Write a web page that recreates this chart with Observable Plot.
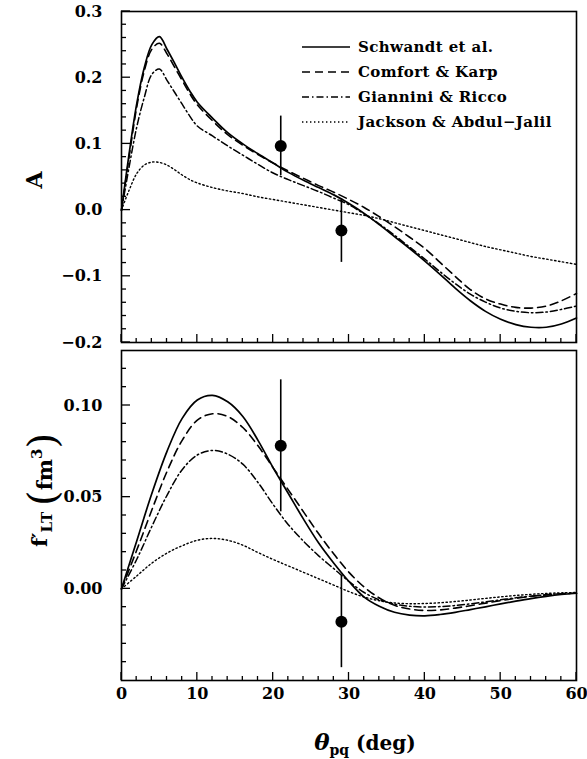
<!DOCTYPE html>
<html>
<head>
<meta charset="utf-8">
<script src="https://cdn.jsdelivr.net/npm/d3@7"></script>
<script src="https://cdn.jsdelivr.net/npm/@observablehq/plot@0.6"></script>
<style>
  body { margin: 0; background: #fff; }
  #chart svg { display: block; }
  #chart svg text { font-family: 'DejaVu Serif', serif; font-weight: bold; }
</style>
</head>
<body>
<div id="chart"></div>
<script>
// ---------- data ----------
const legendNames = ["Schwandt et al.", "Comfort & Karp", "Giannini & Ricco", "Jackson & Abdul\u2212Jalil"];

// Top panel: analyzing power A vs theta_pq
const xTop = [0,1,2,3,4,5,6,7,8,9,10,12,14,16,18,20,22,24,26,28,30,32,34,36,38,40,42,44,46,48,50,52,54,56,58,60];
const aSchwandt = [0,0.085,0.16,0.215,0.25,0.262,0.243,0.222,0.2,0.18,0.163,0.139,0.117,0.1,0.085,0.071,0.057,0.045,0.034,0.023,0.01,-0.005,-0.022,-0.04,-0.058,-0.077,-0.097,-0.118,-0.137,-0.153,-0.165,-0.173,-0.177,-0.177,-0.172,-0.163];
const aComfort  = [0,0.08,0.155,0.21,0.243,0.252,0.236,0.216,0.196,0.176,0.159,0.135,0.114,0.098,0.084,0.071,0.059,0.048,0.037,0.027,0.016,0.004,-0.01,-0.025,-0.041,-0.058,-0.079,-0.1,-0.12,-0.134,-0.142,-0.147,-0.148,-0.145,-0.137,-0.126];
const aGiannini = [0,0.065,0.125,0.17,0.205,0.213,0.196,0.178,0.16,0.142,0.127,0.112,0.097,0.083,0.069,0.056,0.046,0.037,0.028,0.018,0.008,-0.006,-0.021,-0.038,-0.056,-0.074,-0.093,-0.111,-0.127,-0.139,-0.148,-0.153,-0.155,-0.154,-0.15,-0.145];
const aJackson  = [0,0.03,0.055,0.068,0.0725,0.072,0.068,0.061,0.053,0.046,0.041,0.034,0.029,0.025,0.02,0.016,0.012,0.008,0.004,0,-0.004,-0.008,-0.013,-0.019,-0.025,-0.031,-0.037,-0.043,-0.049,-0.055,-0.06,-0.065,-0.07,-0.074,-0.078,-0.082];
const expTheta = [21, 29];
const expA     = [0.097, -0.031];
const expAerr  = [0.045, 0.048];

// Bottom panel: f'_LT (fm^3) vs theta_pq
const xBot = [0,2,4,6,8,10,12,14,16,18,20,22,24,26,28,30,32,34,36,38,40,42,44,46,48,50,52,54,56,58,60];
const fSchwandt = [0,0.026,0.052,0.075,0.093,0.103,0.1055,0.102,0.094,0.081,0.066,0.052,0.038,0.025,0.014,0.004,-0.0045,-0.0095,-0.0128,-0.0143,-0.0147,-0.014,-0.0128,-0.0113,-0.0098,-0.0082,-0.0067,-0.0053,-0.0041,-0.0031,-0.0024];
const fComfort  = [0,0.021,0.043,0.064,0.081,0.092,0.0955,0.094,0.088,0.078,0.066,0.054,0.042,0.03,0.019,0.009,0.001,-0.005,-0.009,-0.011,-0.0118,-0.0115,-0.0105,-0.0092,-0.0078,-0.0064,-0.0052,-0.0041,-0.0033,-0.0027,-0.0024];
const fGiannini = [0,0.016,0.034,0.051,0.065,0.073,0.0755,0.0735,0.068,0.058,0.046,0.035,0.026,0.018,0.011,0.004,-0.002,-0.006,-0.0083,-0.0095,-0.0099,-0.0097,-0.0091,-0.0082,-0.0071,-0.006,-0.0049,-0.004,-0.0032,-0.0027,-0.0024];
const fJackson  = [0,0.007,0.014,0.0195,0.0235,0.0265,0.0275,0.0265,0.0238,0.0198,0.016,0.0125,0.009,0.0055,0.002,-0.0015,-0.0045,-0.0065,-0.0077,-0.0081,-0.008,-0.0076,-0.0069,-0.0061,-0.0052,-0.0044,-0.0036,-0.003,-0.0025,-0.0022,-0.002];
const expF     = [0.078, -0.018];
const expFerr  = [0.036, 0.025];

// ticks
const xMajor = [0,10,20,30,40,50,60];
const xMinor = [2,4,6,8,12,14,16,18,22,24,26,28,32,34,36,38,42,44,46,48,52,54,56,58];
const aMajor = [-0.2,-0.1,0,0.1,0.2,0.3];
const aMinor = [-0.18,-0.16,-0.14,-0.12,-0.08,-0.06,-0.04,-0.02,0.02,0.04,0.06,0.08,0.12,0.14,0.16,0.18,0.22,0.24,0.26,0.28];
const fMajor = [0,0.05,0.10];
const fMinor = [-0.04,-0.03,-0.02,-0.01,0.01,0.02,0.03,0.04,0.06,0.07,0.08,0.09,0.11,0.12];

// ---------- styles ----------
const styles = [
  {dash: null, width: 1.7},
  {dash: "8,5", width: 1.6},
  {dash: "7,3,1.5,3", width: 1.5},
  {dash: "1.4,2.6", width: 1.4}
];

const W = 587, ML = 121, MR = 11;

function panel({height, marginTop, marginBottom, yDomain, yMajor, yMinor, yFormat, xs, series, ex, ey, eerr, showX}) {
  const pts = ex.map((x, i) => ({x, y: ey[i], lo: ey[i] - eerr[i], hi: ey[i] + eerr[i]}));
  const marks = [
    ...series.map((ys, k) => Plot.line(xs.map((x, i) => ({x, y: ys[i]})), {
      x: "x", y: "y", stroke: "black", strokeWidth: styles[k].width,
      strokeDasharray: styles[k].dash, curve: "catmull-rom"
    })),
    Plot.ruleX(pts, {x: "x", y1: "lo", y2: "hi", stroke: "black", strokeWidth: 1.6}),
    Plot.dot(pts, {x: "x", y: "y", r: 6, fill: "black", stroke: "none"}),
    Plot.axisY(yMajor, {tickSize: 0, tickPadding: 19, tickFormat: d3.format(yFormat), fontSize: 16}),
    showX ? Plot.axisX(xMajor, {tickSize: 0, tickPadding: 7, tickFormat: d => String(d), fontSize: 16, label: null}) : null,
    Plot.frame({stroke: "black", strokeWidth: 1.6})
  ];
  const svg = Plot.plot({
    width: W, height, marginLeft: ML, marginRight: MR, marginTop, marginBottom,
    x: {domain: [0, 60], axis: showX ? undefined : null, label: null},
    y: {domain: yDomain, label: null},
    style: {background: "white", color: "black", overflow: "visible"},
    marks
  });
  // inward ticks placed with the plot's own scales
  const sx = svg.scale("x"), sy = svg.scale("y");
  const left = sx.range[0], bottom = sy.range[0];
  const g = d3.select(svg).append("g").attr("stroke", "black").attr("stroke-width", 1.3);
  const hTick = (v, len) => g.append("line").attr("x1", left).attr("x2", left + len)
    .attr("y1", sy.apply(v)).attr("y2", sy.apply(v));
  const vTick = (v, len) => g.append("line").attr("y1", bottom).attr("y2", bottom - len)
    .attr("x1", sx.apply(v)).attr("x2", sx.apply(v));
  yMinor.forEach(v => hTick(v, 5));
  yMajor.forEach(v => hTick(v, 9));
  xMinor.forEach(v => vTick(v, 4));
  xMajor.forEach(v => vTick(v, 8));
  return svg;
}

const topSvg = panel({
  height: 346, marginTop: 11, marginBottom: 4,
  yDomain: [-0.2, 0.3], yMajor: aMajor, yMinor: aMinor, yFormat: ".1f",
  xs: xTop, series: [aSchwandt, aComfort, aGiannini, aJackson],
  ex: expTheta, ey: expA, eerr: expAerr, showX: false
});
const botSvg = panel({
  height: 413, marginTop: 4, marginBottom: 79,
  yDomain: [-0.05, 0.13], yMajor: fMajor, yMinor: fMinor, yFormat: ".2f",
  xs: xBot, series: [fSchwandt, fComfort, fGiannini, fJackson],
  ex: expTheta, ey: expF, eerr: expFerr, showX: true
});

const chart = document.getElementById("chart");
chart.appendChild(topSvg);
chart.appendChild(botSvg);

// ---------- legend (top panel) ----------
const st = d3.select(topSvg);
const lg = st.append("g");
legendNames.forEach((name, k) => {
  const y = 47 + k * 25;
  lg.append("line").attr("x1", 302).attr("x2", 350).attr("y1", y).attr("y2", y)
    .attr("stroke", "black").attr("stroke-width", styles[k].width)
    .attr("stroke-dasharray", styles[k].dash);
  lg.append("text").attr("x", 358).attr("y", y + 5).attr("text-anchor", "start")
    .attr("font-size", 15).attr("letter-spacing", 0.4).text(name);
});

// ---------- axis titles ----------
st.append("text").attr("transform", "translate(42,180) rotate(-90)")
  .attr("text-anchor", "middle").attr("font-size", 22).attr("font-weight", "normal").text("A");

const sb = d3.select(botSvg);
const yl = sb.append("text").attr("transform", "translate(47,144) rotate(-90)")
  .attr("text-anchor", "middle").attr("font-size", 21);
yl.append("tspan").text("f\u2032");
yl.append("tspan").attr("font-size", 15).attr("dy", 5).text("LT");
yl.append("tspan").attr("font-size", 40).attr("font-weight", "normal").attr("dy", 4).attr("dx", 6).text("(");
yl.append("tspan").attr("dy", -4).text("fm");
yl.append("tspan").attr("font-size", 15).attr("dy", -10).text("3");
yl.append("tspan").attr("font-size", 40).attr("font-weight", "normal").attr("dy", 14).text(")");

const xl = sb.append("text").attr("x", 365).attr("y", 404)
  .attr("text-anchor", "middle").attr("font-size", 20);
xl.append("tspan").attr("font-style", "italic").attr("font-size", 23).text("\u03b8");
xl.append("tspan").attr("font-size", 14).attr("dy", 5).text("pq");
xl.append("tspan").attr("dy", -5).text(" (deg)");
</script>
</body>
</html>
